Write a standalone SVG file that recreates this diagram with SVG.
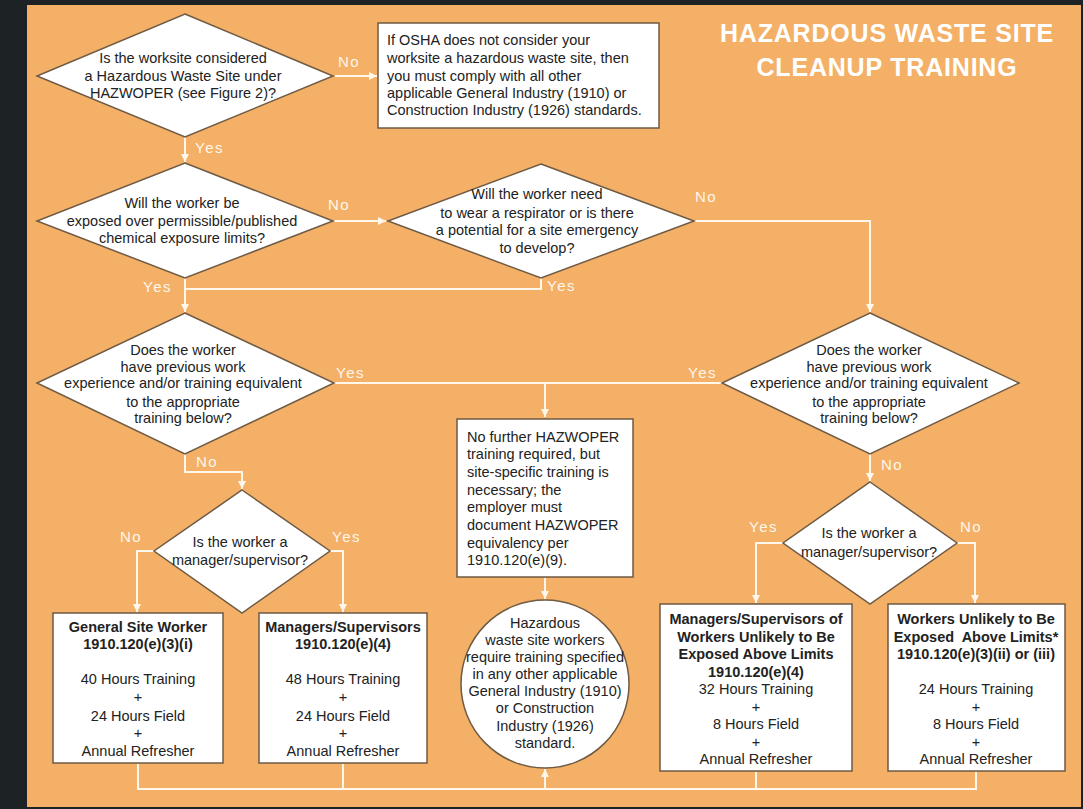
<svg xmlns="http://www.w3.org/2000/svg" width="1083" height="809" viewBox="0 0 1083 809">
<defs>
<style>
.t{font-family:"Liberation Sans",Arial,sans-serif;font-size:14.5px;fill:#222}
.c{text-anchor:middle}
.b{font-weight:bold}
.node{fill:#fff;stroke:#6e5a45;stroke-width:1.5}
.lbl{font-family:"Liberation Sans",Arial,sans-serif;font-size:15px;fill:#fff6ec;letter-spacing:1.5px}
.conn{fill:none;stroke:#fff6ec;stroke-width:2}
.title{font-family:"Liberation Sans",Arial,sans-serif;font-size:25px;font-weight:bold;fill:#fff;letter-spacing:0.8px;text-anchor:middle}
</style>
<marker id="arr" markerUnits="userSpaceOnUse" markerWidth="9" markerHeight="9" refX="8" refY="4" orient="auto">
<path d="M0,0 L8,4 L0,8 z" fill="#fff6ec"/>
</marker>
</defs>
<rect x="0" y="0" width="1083" height="809" fill="#1d2224"/>
<rect x="27" y="5" width="1054" height="802" fill="#F3B066"/>

<g id="title">
<text class="title" x="887" y="42">HAZARDOUS WASTE SITE</text>
<text class="title" x="887" y="76">CLEANUP TRAINING</text>
</g>

<g id="connectors">
<path class="conn" d="M335,76 H377" marker-end="url(#arr)"/>
<path class="conn" d="M185,137 V162" marker-end="url(#arr)"/>
<path class="conn" d="M334,221 H386" marker-end="url(#arr)"/>
<path class="conn" d="M185,278 V312" marker-end="url(#arr)"/>
<path class="conn" d="M541,278 V289 H185"/>
<path class="conn" d="M695,221 H870 V312" marker-end="url(#arr)"/>
<path class="conn" d="M334,383 H722"/>
<path class="conn" d="M545,383 V417" marker-end="url(#arr)"/>
<path class="conn" d="M185,454 V472 H242 V489" marker-end="url(#arr)"/>
<path class="conn" d="M154,551 H137 V612" marker-end="url(#arr)"/>
<path class="conn" d="M330,551 H343 V612" marker-end="url(#arr)"/>
<path class="conn" d="M870,454 V481" marker-end="url(#arr)"/>
<path class="conn" d="M783,543 H756 V603" marker-end="url(#arr)"/>
<path class="conn" d="M957,543 H975 V603" marker-end="url(#arr)"/>
<path class="conn" d="M545,578 V599" marker-end="url(#arr)"/>
<path class="conn" d="M138,764 V789 H976 V772"/>
<path class="conn" d="M343,764 V789"/>
<path class="conn" d="M756,772 V789"/>
<path class="conn" d="M545,789 V769" marker-end="url(#arr)"/>
</g>

<g id="labels">
<text class="lbl" x="338" y="67">No</text>
<text class="lbl" x="195" y="153">Yes</text>
<text class="lbl" x="328" y="210">No</text>
<text class="lbl" x="695" y="202">No</text>
<text class="lbl" x="143" y="292">Yes</text>
<text class="lbl" x="547" y="291">Yes</text>
<text class="lbl" x="336" y="378">Yes</text>
<text class="lbl" x="688" y="378">Yes</text>
<text class="lbl" x="196" y="467">No</text>
<text class="lbl" x="120" y="542">No</text>
<text class="lbl" x="332" y="542">Yes</text>
<text class="lbl" x="881" y="470">No</text>
<text class="lbl" x="749" y="532">Yes</text>
<text class="lbl" x="960" y="532">No</text>
</g>

<g id="q-hazsite">
<polygon class="node" points="185,14 333,76 185,137 37,76"/>
<text class="t c" x="183" y="63">Is the worksite considered</text>
<text class="t c" x="183" y="81">a Hazardous Waste Site under</text>
<text class="t c" x="183" y="98">HAZWOPER (see Figure 2)?</text>
</g>

<g id="box-osha">
<rect class="node" x="378" y="23" width="281" height="105"/>
<text class="t" x="387" y="45">If OSHA does not consider your</text>
<text class="t" x="387" y="63">worksite a hazardous waste site, then</text>
<text class="t" x="387" y="81">you must comply with all other</text>
<text class="t" x="387" y="98">applicable General Industry (1910) or</text>
<text class="t" x="387" y="115">Construction Industry (1926) standards.</text>
</g>

<g id="q-exposed">
<polygon class="node" points="185,163 333,221 185,278 37,221"/>
<text class="t c" x="182" y="208">Will the worker be</text>
<text class="t c" x="182" y="226">exposed over permissible/published</text>
<text class="t c" x="182" y="243">chemical exposure limits?</text>
</g>

<g id="q-respirator">
<polygon class="node" points="541,164 694,221 541,278 388,221"/>
<text class="t c" x="537" y="199">Will the worker need</text>
<text class="t c" x="537" y="218">to wear a respirator or is there</text>
<text class="t c" x="537" y="235">a potential for a site emergency</text>
<text class="t c" x="537" y="253">to develop?</text>
</g>

<g id="q-experience-left">
<polygon class="node" points="185,313 334,383 185,454 37,383"/>
<text class="t c" x="183" y="355">Does the worker</text>
<text class="t c" x="183" y="372">have previous work</text>
<text class="t c" x="183" y="388">experience and/or training equivalent</text>
<text class="t c" x="183" y="407">to the appropriate</text>
<text class="t c" x="183" y="423">training below?</text>
</g>

<g id="q-experience-right">
<polygon class="node" points="870,313 1019,383 870,454 722,383"/>
<text class="t c" x="869" y="355">Does the worker</text>
<text class="t c" x="869" y="372">have previous work</text>
<text class="t c" x="869" y="388">experience and/or training equivalent</text>
<text class="t c" x="869" y="407">to the appropriate</text>
<text class="t c" x="869" y="423">training below?</text>
</g>

<g id="box-no-further">
<rect class="node" x="457" y="419" width="176" height="158"/>
<text class="t" x="467" y="442">No further HAZWOPER</text>
<text class="t" x="467" y="459">training required, but</text>
<text class="t" x="467" y="477">site-specific training is</text>
<text class="t" x="467" y="495">necessary; the</text>
<text class="t" x="467" y="512">employer must</text>
<text class="t" x="467" y="530">document HAZWOPER</text>
<text class="t" x="467" y="548">equivalency per</text>
<text class="t" x="467" y="565">1910.120(e)(9).</text>
</g>

<g id="q-manager-left">
<polygon class="node" points="242,490 330,551 242,613 154,551"/>
<text class="t c" x="240" y="547">Is the worker a</text>
<text class="t c" x="240" y="565">manager/supervisor?</text>
</g>

<g id="q-manager-right">
<polygon class="node" points="870,482 957,543 870,604 783,543"/>
<text class="t c" x="869" y="538">Is the worker a</text>
<text class="t c" x="869" y="557">manager/supervisor?</text>
</g>

<g id="box-general-site-worker">
<rect class="node" x="53" y="613" width="170" height="150"/>
<text class="t c b" x="138" y="632">General Site Worker</text>
<text class="t c b" x="138" y="649">1910.120(e)(3)(i)</text>
<text class="t c" x="138" y="684">40 Hours Training</text>
<text class="t c" x="138" y="702">+</text>
<text class="t c" x="138" y="721">24 Hours Field</text>
<text class="t c" x="138" y="738">+</text>
<text class="t c" x="138" y="756">Annual Refresher</text>
</g>

<g id="box-managers">
<rect class="node" x="259" y="613" width="168" height="150"/>
<text class="t c b" x="343" y="632">Managers/Supervisors</text>
<text class="t c b" x="343" y="649">1910.120(e)(4)</text>
<text class="t c" x="343" y="684">48 Hours Training</text>
<text class="t c" x="343" y="702">+</text>
<text class="t c" x="343" y="721">24 Hours Field</text>
<text class="t c" x="343" y="738">+</text>
<text class="t c" x="343" y="756">Annual Refresher</text>
</g>

<g id="circle-other-standards">
<circle class="node" cx="545" cy="684" r="84"/>
<text class="t c" x="545" y="628">Hazardous</text>
<text class="t c" x="545" y="645">waste site workers</text>
<text class="t c" x="545" y="662">require training specified</text>
<text class="t c" x="545" y="679">in any other applicable</text>
<text class="t c" x="545" y="696">General Industry (1910)</text>
<text class="t c" x="545" y="713">or Construction</text>
<text class="t c" x="545" y="731">Industry (1926)</text>
<text class="t c" x="545" y="748">standard.</text>
</g>

<g id="box-managers-unlikely">
<rect class="node" x="660" y="604" width="192" height="167"/>
<text class="t c b" x="756" y="624">Managers/Supervisors of</text>
<text class="t c b" x="756" y="642">Workers Unlikely to Be</text>
<text class="t c b" x="756" y="659">Exposed Above Limits</text>
<text class="t c b" x="756" y="677">1910.120(e)(4)</text>
<text class="t c" x="756" y="694">32 Hours Training</text>
<text class="t c" x="756" y="712">+</text>
<text class="t c" x="756" y="729">8 Hours Field</text>
<text class="t c" x="756" y="747">+</text>
<text class="t c" x="756" y="764">Annual Refresher</text>
</g>

<g id="box-workers-unlikely">
<rect class="node" x="888" y="604" width="177" height="167"/>
<text class="t c b" x="976" y="624">Workers Unlikely to Be</text>
<text class="t c b" x="976" y="642">Exposed&#160; Above Limits*</text>
<text class="t c b" x="976" y="659">1910.120(e)(3)(ii) or (iii)</text>
<text class="t c" x="976" y="694">24 Hours Training</text>
<text class="t c" x="976" y="712">+</text>
<text class="t c" x="976" y="729">8 Hours Field</text>
<text class="t c" x="976" y="747">+</text>
<text class="t c" x="976" y="764">Annual Refresher</text>
</g>
</svg>
